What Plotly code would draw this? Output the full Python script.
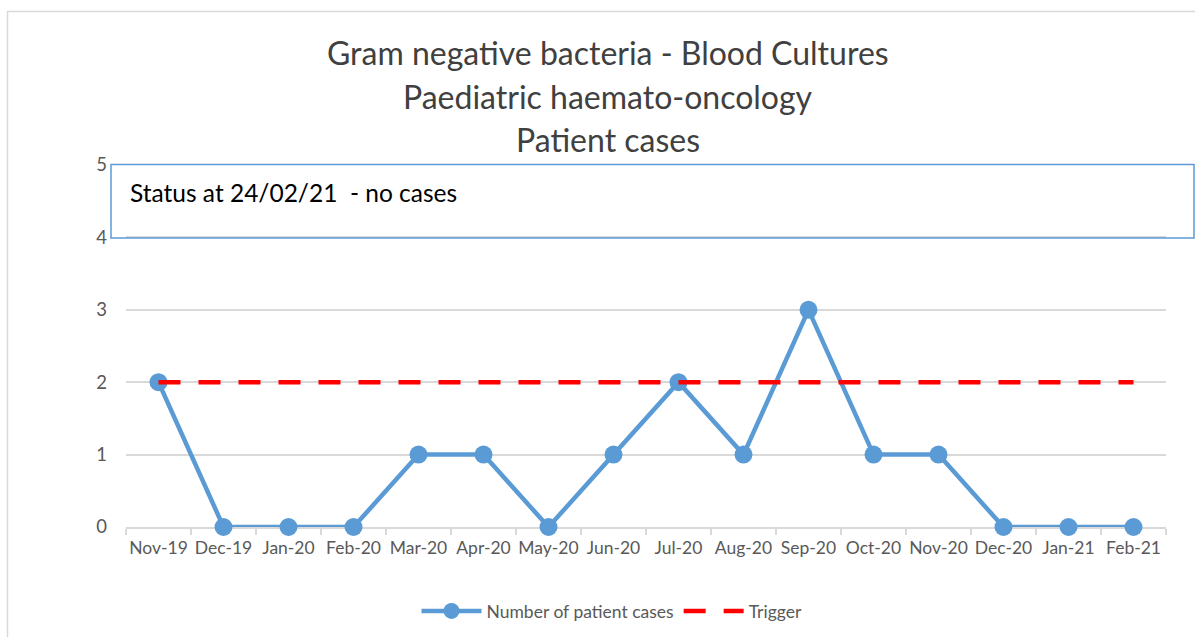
import plotly.graph_objects as go

# Monthly series
months = ["Nov-19", "Dec-19", "Jan-20", "Feb-20", "Mar-20", "Apr-20", "May-20", "Jun-20",
          "Jul-20", "Aug-20", "Sep-20", "Oct-20", "Nov-20", "Dec-20", "Jan-21", "Feb-21"]
patient_cases = [2, 0, 0, 0, 1, 1, 0, 1, 2, 1, 3, 1, 1, 0, 0, 0]
trigger = [2] * len(months)

title_lines = ["Gram negative bacteria - Blood Cultures",
               "Paediatric haemato-oncology",
               "Patient cases"]
status_text = "Status at 24/02/21  - no cases"

FONT = "Lato"
TEXT = "#404040"
AXIS_TEXT = "#595959"
BLUE = "#5B9BD5"
GRID = "#D9D9D9"

W, H = 1195, 637
L, R, T, B = 126, 29, 165, 110
pw, ph = W - L - R, H - T - B


def px(x):
    return (x - L) / pw


def py(y):
    return (H - B - y) / ph


fig = go.Figure()
fig.add_trace(go.Scatter(
    x=months, y=patient_cases, name="Number of patient cases",
    mode="lines+markers", cliponaxis=False,
    line=dict(color=BLUE, width=4.5),
    marker=dict(color=BLUE, size=18),
))
fig.add_trace(go.Scatter(
    x=months, y=trigger, name="Trigger", mode="lines", cliponaxis=False,
    line=dict(color="#FF0000", width=4.5, dash="22px,18px"),
))

annotations = []
for i, line in enumerate(title_lines):
    annotations.append(dict(
        text=line, xref="paper", yref="paper", x=px(608), y=py(53 + 43 * i),
        xanchor="center", yanchor="middle", showarrow=False,
        font=dict(family=FONT, size=32, color=TEXT),
    ))
annotations.append(dict(
    text=status_text, xref="paper", yref="paper", x=px(128), y=py(192),
    xanchor="left", yanchor="middle", showarrow=False,
    font=dict(family=FONT, size=24.5, color="#000000"),
))

shapes = [
    # outer chart frame
    dict(type="rect", xref="paper", yref="paper", x0=px(7.5), y0=py(700), x1=px(1250), y1=py(11.5),
         line=dict(color="#D9D9D9", width=1.5), layer="below"),
    # status box
    dict(type="rect", xref="paper", yref="paper", x0=px(111), y0=py(238), x1=px(1194), y1=py(164.5),
         line=dict(color=BLUE, width=1.5), fillcolor="rgba(255,255,255,0)"),
]

fig.update_layout(
    width=W, height=H,
    margin=dict(l=L, r=R, t=T, b=B, autoexpand=False),
    paper_bgcolor="white", plot_bgcolor="white",
    showlegend=True,
    legend=dict(orientation="h", xref="paper", x=px(612), xanchor="center",
                yref="container", y=1 - 611 / H, yanchor="middle",
                font=dict(family=FONT, size=17.5, color=AXIS_TEXT),
                itemwidth=60, tracegroupgap=0),
    annotations=annotations,
    shapes=shapes,
    xaxis=dict(
        type="category", range=[-0.5, len(months) - 0.5], automargin=False,
        showgrid=False, showline=True, linecolor=GRID, linewidth=1.5,
        ticks="outside", tickson="boundaries", ticklen=6, tickcolor=GRID, tickwidth=1.5,
        tickfont=dict(family=FONT, size=17.5, color=AXIS_TEXT), tickangle=0,
        ticklabelstandoff=4, layer="below traces",
        zeroline=False,
    ),
    yaxis=dict(
        range=[0, 5], dtick=1, showgrid=True, gridcolor=GRID, gridwidth=1.5,
        showline=False, zeroline=False, ticks="", automargin=False,
        tickfont=dict(family=FONT, size=18.5, color=AXIS_TEXT),
        ticklabelstandoff=18, layer="below traces",
    ),
)

fig.write_html("out.html")
